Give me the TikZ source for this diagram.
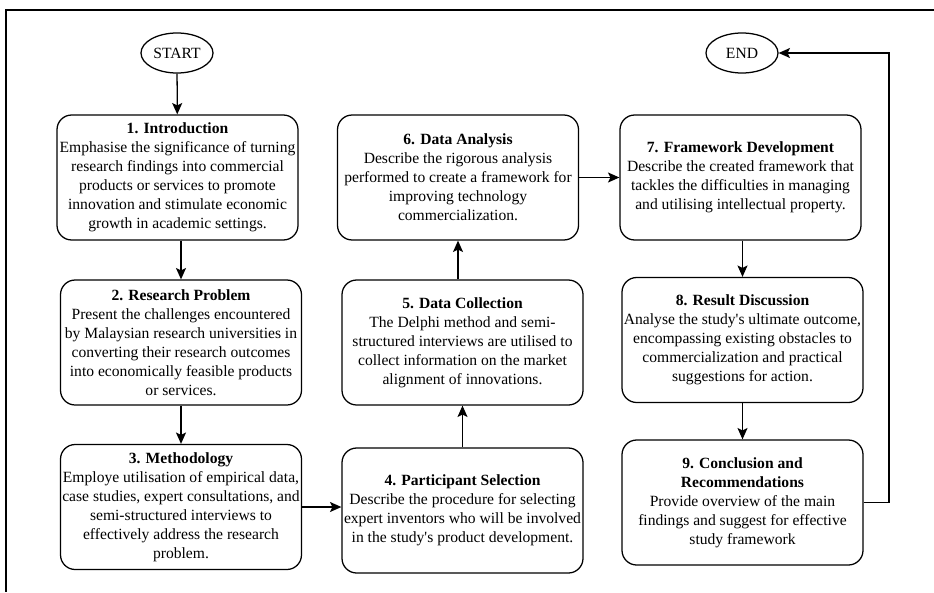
\documentclass[tikz,border=0pt]{standalone}
\usepackage{fontspec}
\setmainfont{Liberation Serif}
\usetikzlibrary{arrows.meta, shapes.geometric}

\begin{document}
\begin{tikzpicture}[x=0.75pt, y=-0.75pt,
  box/.style={draw, rounded corners=11pt, align=center, minimum width=180.75pt, minimum height=93.75pt, inner sep=1pt, line width=0.95pt, font=\fontsize{11.7pt}{14.2pt}\selectfont},
  term/.style={draw, ellipse, minimum width=54pt, minimum height=30pt, inner sep=0pt, line width=0.95pt, font=\fontsize{11.7pt}{14.2pt}\selectfont},
  arrow/.style={-{Stealth[length=8.5pt, width=7.5pt, inset=1.8pt]}, line width=0.95pt}
]
\useasboundingbox (0,0) rectangle (934,592);
\draw[line width=1.9pt] (934,10) -- (6,10) -- (6,592);

\node[term] (start) at (177,53) {START};
\node[term] (end) at (742,53) {END};

\node[box] (intro) at (177.5,177.5) {\textbf{1. Introduction}\\Emphasise the significance of turning\\research findings into commercial\\products or services to promote\\innovation and stimulate economic\\growth in academic settings.};
\node[box] (prob) at (181,342.5) {\textbf{2. Research Problem}\\Present the challenges encountered\\by Malaysian research universities in\\converting their research outcomes\\into economically feasible products\\or services.};
\node[box] (meth) at (181,507) {\textbf{3. Methodology}\\Employe utilisation of empirical data,\\case studies, expert consultations, and\\semi-structured interviews to\\effectively address the research\\problem.};
\node[box] (part) at (462.5,510.5) {\textbf{4. Participant Selection}\\Describe the procedure for selecting\\expert inventors who will be involved\\in the study\textquotesingle s product development.};
\node[box] (coll) at (462.5,342.5) {\textbf{5. Data Collection}\\The Delphi method and semi-\\structured interviews are utilised to\\collect information on the market\\alignment of innovations.};
\node[box] (anal) at (458,177.5) {\textbf{6. Data Analysis}\\Describe the rigorous analysis\\performed to create a framework for\\improving technology\\commercialization.};
\node[box] (frame) at (740.5,177.5) {\textbf{7. Framework Development}\\Describe the created framework that\\tackles the difficulties in managing\\and utilising intellectual property.};
\node[box] (res) at (742.5,340) {\textbf{8. Result Discussion}\\Analyse the study\textquotesingle s ultimate outcome,\\encompassing existing obstacles to\\commercialization and practical\\suggestions for action.};
\node[box] (concl) at (742.5,502.5) {\textbf{9. Conclusion and}\\\textbf{Recommendations}\\Provide overview of the main\\findings and suggest for effective\\study framework};

\coordinate (turn) at (889,53);

\draw[arrow] (start) -- (intro);
\draw[arrow] (prob.north |- intro.south) -- (prob.north);
\draw[arrow] (prob) -- (meth);
\draw[arrow] (meth.east) -- (meth.east -| part.west);
\draw[arrow] (part) -- (coll);
\draw[arrow] (anal.south |- coll.north) -- (anal.south);
\draw[arrow] (anal) -- (frame);
\draw[arrow] (res.north |- frame.south) -- (res.north);
\draw[arrow] (res) -- (concl);
\draw[arrow] (concl.east) -| (turn) -- (end.east);
\end{tikzpicture}
\end{document}
